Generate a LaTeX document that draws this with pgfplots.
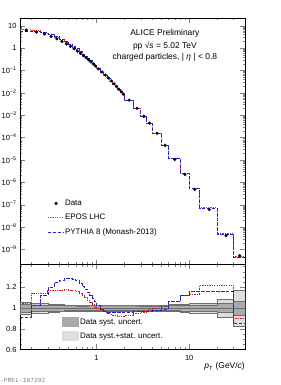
\documentclass[border=0pt]{standalone}
\usepackage{pgfplots}
\pgfplotsset{compat=1.18}
\usepackage{pgfplotstable}
\usepackage{fontspec}
\setmainfont{Liberation Sans}
\setmonofont{Liberation Mono}
\definecolor{eposred}{RGB}{245,45,45}
\definecolor{eposdark}{RGB}{215,25,25}
\definecolor{pyblue}{RGB}{30,30,235}
\definecolor{systgray}{RGB}{170,170,170}
\definecolor{totgray}{RGB}{222,222,222}
\definecolor{edgegray}{RGB}{110,110,110}
\tikzset{eposline/.style={draw=eposred, dash pattern=on 1.3pt off 1.1pt, line width=1.0pt},
         pyline/.style={draw=pyblue, dash pattern=on 3.5pt off 1.5pt, line width=0.8pt}}

\pgfplotstableread{
lo   c     data     rE     rP     es     et
0.15 0.175 6.31     1.040  0.912  0.037  0.060
0.20 0.225 5.19     1.142  1.030  0.032  0.050
0.25 0.275 4.27     1.145  1.120  0.030  0.045
0.30 0.325 3.31     1.165  1.200  0.028  0.040
0.35 0.375 2.57     1.168  1.247  0.027  0.036
0.40 0.425 1.97     1.172  1.270  0.026  0.034
0.45 0.475 1.53     1.174  1.285  0.025  0.032
0.50 0.525 1.19     1.172  1.285  0.024  0.031
0.55 0.575 0.933    1.165  1.280  0.024  0.030
0.60 0.625 0.724    1.155  1.263  0.023  0.029
0.65 0.675 0.569    1.140  1.235  0.023  0.028
0.70 0.725 0.452    1.120  1.205  0.022  0.027
0.75 0.775 0.363    1.100  1.180  0.022  0.027
0.80 0.825 0.295    1.075  1.150  0.021  0.026
0.85 0.875 0.240    1.050  1.120  0.021  0.026
0.90 0.925 0.195    1.030  1.090  0.021  0.026
0.95 0.975 0.158    1.010  1.060  0.021  0.026
1.0  1.05  0.117    1.000  1.024  0.021  0.026
1.1  1.15  0.0851   0.985  0.990  0.021  0.026
1.2  1.25  0.0617   0.965  0.970  0.021  0.026
1.3  1.35  0.0457   0.950  0.962  0.021  0.026
1.4  1.45  0.0339   0.937  0.960  0.021  0.026
1.5  1.55  0.0251   0.930  0.960  0.021  0.026
1.6  1.65  0.0191   0.925  0.960  0.021  0.026
1.7  1.75  0.0145   0.921  0.960  0.021  0.026
1.8  1.85  0.0112   0.921  0.960  0.021  0.026
1.9  1.95  0.00871  0.921  0.960  0.021  0.026
2.0  2.25  0.00468  0.925  0.962  0.021  0.026
2.5  2.75  0.00200  0.943  0.964  0.021  0.027
3.0  3.25  8.91e-4  0.960  0.966  0.022  0.027
3.5  3.75  4.37e-4  0.985  0.970  0.022  0.028
4    4.5   1.55e-4  0.991  0.975  0.023  0.029
5    5.5   4.47e-5  1.024  0.991  0.023  0.030
6    7     1.05e-5  1.062  1.062  0.024  0.033
8    9     2.24e-6  1.120  1.120  0.026  0.036
10   11.5  4.79e-7  1.135  1.158  0.030  0.045
13   16.5  6.03e-8  1.221  1.158  0.032  0.050
20   25    4.07e-9  1.221  1.158  0.043  0.085
30   35    5.25e-10 0.896  0.848  0.067  0.175
40   nan   5.25e-10 0.896  0.848  0.067  0.175
}\spec

\begin{document}
\begin{tikzpicture}
\path[use as bounding box] (0bp,0bp) rectangle (281bp,385bp);

% ---------------- upper panel ----------------
\begin{axis}[
  scale only axis, width=225bp, height=246.5bp,
  at={(20bp,120.5bp)}, anchor=south west,
  xmode=log, xmin=0.15, xmax=40,
  ymode=log, ymin=2.1e-10, ymax=22,
  tick align=inside,
  major tick length=5bp, minor tick length=2.5bp,
  axis line style={black, line width=0.6pt},
  tick label style={font=\fontsize{7.5}{8}\selectfont},
  xtick={1,10}, xticklabels={},
  minor xtick={0.2,0.3,0.4,0.5,0.6,0.7,0.8,0.9,2,3,4,5,6,7,8,9,20,30,40},
  ytickten={-9,-8,-7,-6,-5,-4,-3,-2,-1,0,1},
  yticklabel={\pgfmathtruncatemacro{\myexp}{round(\tick/ln(10))}%
    \ifnum\myexp=0 1\else\ifnum\myexp=1 10\else 10\textsuperscript{\ifnum\myexp<0 −\number-\myexp\else\myexp\fi}\fi\fi},
  legend style={at={(0.115,0.275)}, anchor=north west, draw=none, fill=none,
    font=\fontsize{8}{9}\selectfont, row sep=3.4bp, inner sep=1bp},
  legend cell align=left,
]
\addplot[eposline, const plot mark left, forget plot]
  table[x=lo, y expr=\thisrow{data}*\thisrow{rE}]{\spec};
\addplot[pyline, const plot mark left, forget plot]
  table[x=lo, y expr=\thisrow{data}*\thisrow{rP}]{\spec};
\addplot[only marks, mark=*, mark size=1.4bp, color=black]
  table[x=c, y=data]{\spec};
\addlegendentry{Data}
\addlegendimage{legend image code/.code={\draw[eposline] (0bp,0bp) -- (15bp,0bp);}}
\addlegendentry{EPOS LHC}
\addlegendimage{legend image code/.code={\draw[pyline] (0bp,0bp) -- (15bp,0bp);}}
\addlegendentry{PYTHIA 8 (Monash-2013)}

\node[anchor=center, font=\fontsize{8.5}{10}\selectfont] at (rel axis cs:0.644,0.939) {ALICE Preliminary};
\node[anchor=center, font=\fontsize{8.5}{10}\selectfont] at (rel axis cs:0.644,0.886) {pp √\textit{s} = 5.02 TeV};
\node[anchor=center, font=\fontsize{8.5}{10}\selectfont] at (rel axis cs:0.644,0.841) {charged particles, | \textit{η} | < 0.8};
\end{axis}

% ---------------- lower panel ----------------
\begin{axis}[
  scale only axis, width=225bp, height=85bp,
  at={(20bp,35.5bp)}, anchor=south west,
  xmode=log, xmin=0.15, xmax=40,
  ymin=0.6, ymax=1.42,
  tick align=inside,
  major tick length=5bp, minor tick length=2.5bp,
  axis line style={black, line width=0.6pt},
  tick label style={font=\fontsize{7.5}{8}\selectfont},
  xticklabel style={yshift=-2bp},
  xtick={1,10}, xticklabels={1,10},
  minor xtick={0.2,0.3,0.4,0.5,0.6,0.7,0.8,0.9,2,3,4,5,6,7,8,9,20,30,40},
  ytick={0.6,0.8,1,1.2}, yticklabels={0.6,0.8,1,1.2},
  minor ytick={0.65,0.7,0.75,0.85,0.9,0.95,1.05,1.1,1.15,1.25,1.3,1.35,1.4},
  xlabel={\textit{p}\textsubscript{T} (GeV/\textit{c})},
  xlabel style={at={(rel axis cs:1,0)}, anchor=north east, yshift=-13bp, inner sep=0pt,
    font=\fontsize{8.5}{10}\selectfont},
  legend style={at={(0.18,0.40)}, anchor=north west, draw=none, fill=none,
    font=\fontsize{8}{9}\selectfont, row sep=3.0bp, inner sep=1bp},
  legend cell align=left,
]
\addplot[draw=none, const plot mark left, stack plots=y, forget plot]
  table[x=lo, y expr=1-\thisrow{et}]{\spec};
\addplot[fill=totgray, draw=edgegray, line width=0.3pt, const plot mark left, stack plots=y, forget plot]
  table[x=lo, y expr=2*\thisrow{et}]{\spec} \closedcycle;
\addplot[draw=none, const plot mark left, stack plots=y, forget plot]
  table[x=lo, y expr=-\thisrow{et}-\thisrow{es}]{\spec};
\addplot[fill=systgray, draw=edgegray, line width=0.3pt, const plot mark left, stack plots=y, forget plot]
  table[x=lo, y expr=2*\thisrow{es}]{\spec} \closedcycle;
\addplot[edgegray, line width=0.6pt, forget plot] coordinates {(0.15,1) (40,1)};
\addplot[eposline, draw=eposdark, const plot mark left, forget plot]
  table[x=lo, y=rE]{\spec};
\addplot[pyline, const plot mark left, forget plot]
  table[x=lo, y=rP]{\spec};
\addlegendimage{legend image code/.code={\fill[systgray] (0bp,-4.5bp) rectangle (16bp,4.5bp);}}
\addlegendentry{Data syst. uncert.}
\addlegendimage{legend image code/.code={\fill[totgray] (0bp,-4.5bp) rectangle (16bp,4.5bp);}}
\addlegendentry{Data syst.+stat. uncert.}
\end{axis}

\node[anchor=west, inner sep=0pt, text=gray, font=\ttfamily\fontsize{6.3}{7}\selectfont] at (0bp,4.5bp) {-PREL-107292};
\end{tikzpicture}
\end{document}
